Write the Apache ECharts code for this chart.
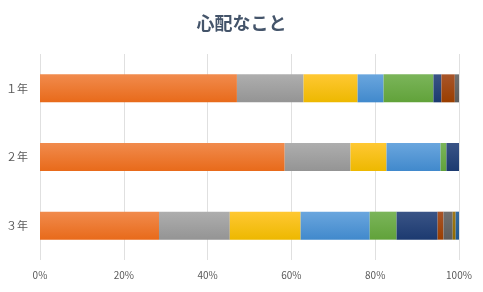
<!DOCTYPE html>
<html><head><meta charset="utf-8">
<script src="https://cdn.jsdelivr.net/npm/echarts@6/dist/echarts.min.js"></script>
<style>html,body{margin:0;padding:0;background:#fff}#c{width:483px;height:292px}</style>
</head><body><div id="c"></div>
<script>
const categories = ['１年', '２年', '３年'];
const xTicks = [0, 20, 40, 60, 80, 100];
const s1 = [47.0, 58.4, 28.4];
const s2 = [15.9, 15.7, 16.9];
const s3 = [12.9, 8.6, 16.9];
const s4 = [6.2, 12.9, 16.5];
const s5 = [11.9, 1.4, 6.4];
const s6 = [1.9, 3.0, 9.8];
const s7 = [3.2, 0, 1.4];
const s8 = [1.0, 0, 2.2];
const s9 = [0, 0, 0.7];
const s10 = [0, 0, 0.8];
const seriesData = [s1, s2, s3, s4, s5, s6, s7, s8, s9, s10];
const colorsTop = ['#F18B4D', '#AEAEAE', '#FFC833', '#6AA6DE', '#7BB55A', '#3A5486', '#A8552A', '#707070', '#A0791A', '#346CA0'];
const colorsBot = ['#E86A1A', '#949494', '#EDB800', '#4189CC', '#61A23A', '#1C3A70', '#9A3E00', '#5C5C5C', '#8F6A00', '#1F5890'];

const chart = echarts.init(document.getElementById('c'), null, {renderer: 'canvas'});
const font = '"Noto Sans CJK JP", "Noto Sans", sans-serif';
chart.setOption({
  animation: false,
  title: {
    text: '心配なこと', left: 'center', top: 9,
    textStyle: {fontFamily: font, fontSize: 18, fontWeight: 'bold', color: '#44546A'}
  },
  grid: {left: 40, right: 24, top: 54, bottom: 32, containLabel: false},
  xAxis: {
    type: 'value', min: 0, max: 100, interval: 20,
    axisLine: {show: false}, axisTick: {show: false},
    splitLine: {lineStyle: {color: '#E0E0E0', width: 1}},
    axisLabel: {formatter: v => xTicks.includes(v) ? v + '%' : '', color: '#595959', fontSize: 10, fontFamily: font, margin: 10}
  },
  yAxis: {
    type: 'category', data: categories, inverse: true,
    axisLine: {show: false}, axisTick: {show: false},
    axisLabel: {color: '#595959', fontSize: 11, fontFamily: font, margin: 12}
  },
  series: seriesData.map((d, i) => ({
    type: 'bar', stack: 'all', data: d, barWidth: 28,
    itemStyle: {color: new echarts.graphic.LinearGradient(0, 0, 0, 1, [
      {offset: 0, color: colorsTop[i]}, {offset: 1, color: colorsBot[i]}])}
  }))
});
</script></body></html>
